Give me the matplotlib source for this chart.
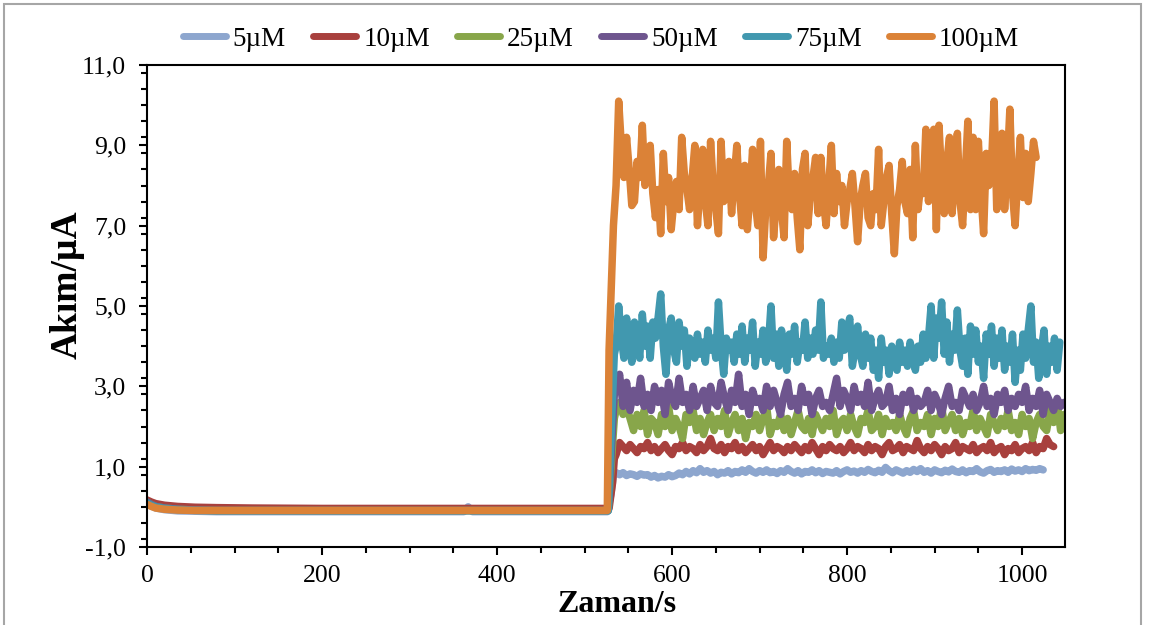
import numpy as np
import matplotlib
matplotlib.use("Agg")
import matplotlib.pyplot as plt
from matplotlib.patches import Rectangle
from matplotlib.ticker import MultipleLocator, FuncFormatter

# ---------------- data ----------------
labels = ["5µM", "10µM", "25µM", "50µM", "75µM", "100µM"]
colors = ["#8DA6CE", "#A8403D", "#88A64A", "#6E558E", "#4198AF", "#DB8237"]

# baseline (before injection): times and currents
pre_t_5 = [0, 5, 10, 20, 35, 55, 80, 120, 200, 300, 362, 367, 372, 450, 526, 530, 533]
pre_i_5 = [0.08, 0.02, -0.03, -0.07, -0.10, -0.11, -0.12, -0.12, -0.12, -0.12, -0.12, 0.0, -0.12, -0.12, -0.12, 0.3, 0.8]
pre_t_10 = [0, 5, 10, 20, 35, 55, 80, 120, 200, 300, 400, 500, 528, 532, 534]
pre_i_10 = [0.17, 0.12, 0.08, 0.04, 0.01, -0.01, -0.02, -0.03, -0.04, -0.04, -0.04, -0.04, -0.04, 0.6, 1.2]
pre_t_25 = [0, 5, 10, 20, 35, 55, 80, 120, 200, 300, 400, 500, 527, 531, 534]
pre_i_25 = [0.12, 0.06, 0.01, -0.03, -0.06, -0.08, -0.09, -0.09, -0.09, -0.09, -0.09, -0.09, -0.09, 1.2, 2.2]
pre_t_50 = [0, 5, 10, 20, 35, 55, 80, 120, 200, 300, 400, 500, 527, 531, 534]
pre_i_50 = [0.12, 0.06, 0.01, -0.03, -0.06, -0.08, -0.09, -0.09, -0.09, -0.09, -0.09, -0.09, -0.09, 1.6, 2.8]
pre_t_75 = [0, 5, 10, 20, 35, 55, 80, 120, 200, 300, 400, 500, 527, 531, 534]
pre_i_75 = [0.10, 0.04, 0.0, -0.04, -0.07, -0.09, -0.10, -0.10, -0.10, -0.10, -0.10, -0.10, -0.10, 2.2, 3.8]
pre_t_100 = [0, 5, 10, 20, 35, 55, 80, 120, 200, 300, 400, 500, 526, 528, 533]
pre_i_100 = [0.06, 0.01, -0.03, -0.06, -0.08, -0.09, -0.09, -0.09, -0.09, -0.09, -0.09, -0.09, -0.09, 3.9, 7.0]

# steady response after injection, sampled from t = 536 s
post_t0 = 536
post_dt = [4, 4, 4, 4, 3, 3]   # sampling step (s) for each series
post_i_5 = [0.85, 0.8, 0.85, 0.78, 0.82, 0.8, 0.76, 0.82, 0.79, 0.8, 0.74, 0.78, 0.72, 0.76, 0.74,
            0.8, 0.75, 0.78, 0.84, 0.8, 0.88, 0.82, 0.9, 0.85, 0.95, 0.86, 0.9, 0.84, 0.88, 0.8,
            0.86, 0.84, 0.9, 0.82, 0.88, 0.85, 0.92, 0.86, 0.95, 0.88, 0.84, 0.9, 0.86, 0.92, 0.85,
            0.88, 0.83, 0.9, 0.86, 0.95, 0.88, 0.84, 0.9, 0.82, 0.88, 0.86, 0.92, 0.85, 0.9, 0.83,
            0.88, 0.86, 0.84, 0.9, 0.82, 0.88, 0.92, 0.86, 0.89, 0.84, 0.9, 0.86, 0.93, 0.88, 0.85,
            0.91, 0.86, 0.98, 0.9, 0.85, 0.92, 0.88, 0.84, 0.9, 0.86, 0.93, 0.88, 0.95, 0.86, 0.9,
            0.84, 0.92, 0.88, 0.85, 0.91, 0.87, 0.94, 0.88, 0.86, 0.92, 0.85, 0.9, 0.88, 0.95, 0.87,
            0.84, 0.9, 0.93, 0.86, 0.9, 0.88, 0.92, 0.86, 0.94, 0.89, 0.92, 0.88, 0.95, 0.9, 0.93,
            0.91, 0.95, 0.92]
post_i_10 = [1.3, 1.6, 1.5, 1.4, 1.55, 1.45, 1.35, 1.5, 1.45, 1.6, 1.4, 1.5, 1.35, 1.45, 1.55,
             1.4, 1.3, 1.5, 1.45, 1.6, 1.4, 1.5, 1.45, 1.35, 1.55, 1.4, 1.5, 1.7, 1.45, 1.4,
             1.55, 1.35, 1.5, 1.45, 1.6, 1.4, 1.5, 1.35, 1.45, 1.55, 1.4, 1.5, 1.3, 1.45, 1.6,
             1.4, 1.5, 1.45, 1.35, 1.5, 1.4, 1.55, 1.45, 1.35, 1.5, 1.4, 1.6, 1.45, 1.3, 1.5,
             1.4, 1.55, 1.45, 1.4, 1.5, 1.35, 1.45, 1.6, 1.4, 1.5, 1.45, 1.35, 1.55, 1.4, 1.5,
             1.45, 1.3, 1.5, 1.6, 1.4, 1.45, 1.55, 1.35, 1.5, 1.45, 1.4, 1.65, 1.45, 1.35, 1.5,
             1.4, 1.55, 1.45, 1.3, 1.5, 1.4, 1.45, 1.6, 1.35, 1.5, 1.45, 1.4, 1.55, 1.35, 1.45,
             1.5, 1.4, 1.6, 1.35, 1.45, 1.5, 1.3, 1.45, 1.4, 1.55, 1.35, 1.45, 1.5, 1.4, 1.6,
             1.35, 1.5, 1.45, 1.7, 1.55, 1.5]
post_i_25 = [2.4, 2.6, 2.3, 2.5, 2.2, 1.9, 2.3, 2.0, 2.4, 1.8, 2.2, 2.1, 1.8, 2.3, 2.0,
             2.5, 1.9, 2.2, 2.0, 1.7, 2.3, 2.1, 2.4, 1.9, 2.2, 1.8, 2.1, 2.3, 1.9, 2.2,
             2.0, 2.4, 1.8, 2.1, 2.3, 1.9, 2.2, 1.7, 2.1, 2.0, 2.3, 1.9, 2.2, 2.5, 1.8,
             2.1, 2.0, 2.3, 1.9, 2.2, 1.8, 2.1, 2.4, 2.0, 1.9, 2.2, 1.8, 2.3, 2.1, 1.9,
             2.2, 2.0, 2.4, 1.8, 2.1, 2.2, 1.9, 2.3, 2.0, 1.8, 2.2, 2.1, 2.4, 1.9, 2.0,
             2.3, 1.8, 2.2, 2.0, 2.1, 1.9, 2.3, 2.0, 1.8, 2.2, 2.4, 1.9, 2.1, 2.0, 2.3,
             1.8, 2.2, 2.0, 2.5, 1.9, 2.1, 2.3, 1.9, 2.2, 1.8, 2.1, 2.0, 2.4, 1.9, 2.2,
             2.0, 1.8, 2.3, 2.1, 1.9, 2.2, 2.0, 2.4, 1.9, 2.1, 1.8, 2.3, 2.0, 2.2, 1.7,
             2.1, 2.3, 2.0, 1.9, 2.4, 2.1, 2.6, 1.9, 2.3]
post_i_50 = [2.9, 3.3, 2.5, 3.1, 2.4, 2.9, 2.6, 3.2, 2.5, 2.8, 2.4, 3.0, 2.6, 2.9, 2.3,
             3.1, 2.7, 2.5, 3.2, 2.6, 2.8, 2.4, 3.0, 2.5, 2.7, 2.9, 2.4, 3.0, 2.6, 2.5,
             3.1, 2.7, 2.4, 2.9, 2.6, 3.3, 2.5, 2.8, 2.3, 2.9, 2.6, 2.7, 2.4, 3.0, 2.5,
             2.9, 2.6, 2.3, 2.8, 3.1, 2.5, 2.7, 2.4, 3.0, 2.6, 2.8, 2.3, 2.7, 2.9, 2.5,
             2.6, 2.4, 2.8, 3.2, 2.5, 2.9, 2.7, 2.4, 3.0, 2.6, 2.8, 2.5, 3.1, 2.4, 2.7,
             2.9, 2.5, 2.6, 3.0, 2.4, 2.7, 2.3, 2.8, 2.6, 2.9, 2.4, 2.7, 2.5, 2.6, 2.9,
             2.4, 2.8, 2.6, 2.3, 2.7, 3.0, 2.5, 2.6, 2.4, 2.9, 2.7, 2.5, 2.8, 2.4, 2.6,
             3.0, 2.5, 2.7, 2.3, 2.8, 2.6, 2.9, 2.4, 2.7, 2.5, 2.8, 2.6, 3.0, 2.4, 2.7,
             2.5, 2.9, 2.3, 2.8, 2.6, 2.4, 2.7, 2.5, 2.6]
post_i_75 = [4.0, 5.0, 4.2, 3.7, 4.7, 4.1, 3.6, 4.6, 4.3, 3.7, 4.8, 4.0, 4.5, 3.7, 4.6,
             4.2, 4.7, 5.3, 4.0, 3.3, 4.4, 4.7, 3.9, 3.6, 4.6, 4.0, 4.4, 3.5, 4.2, 4.0,
             3.7, 4.3, 3.8, 4.1, 3.6, 4.4, 3.9, 4.2, 3.7, 5.1, 4.0, 3.3, 4.2, 3.9, 4.1,
             3.6, 4.3, 3.8, 4.5, 3.6, 4.2, 3.9, 4.6, 3.5, 4.1, 3.8, 4.4, 3.6, 4.0, 5.0,
             3.7, 4.3, 3.5, 4.4, 4.0, 3.4, 4.3, 3.8, 4.5, 3.6, 4.1, 3.9, 4.6, 3.7, 4.2,
             3.8, 4.4, 3.9, 5.1, 3.7, 4.0, 3.8, 4.2, 3.6, 4.1, 3.7, 4.6, 3.9, 4.4, 4.7,
             3.5, 3.9, 4.5, 3.8, 3.5, 4.3, 3.7, 4.2, 3.4, 3.9, 3.2, 4.2, 3.6, 3.9, 3.3,
             4.0, 3.7, 3.4, 4.1, 3.6, 3.9, 3.5, 4.1, 3.8, 3.4, 4.0, 3.6, 4.3, 3.7, 4.2,
             5.0, 3.7, 4.7, 4.2, 5.1, 3.8, 4.6, 3.6, 4.3, 3.9, 4.9, 3.9, 3.5, 4.2, 3.3,
             4.5, 3.8, 4.4, 3.6, 4.0, 3.2, 4.3, 3.8, 4.5, 3.5, 4.2, 3.7, 4.4, 3.4, 4.0,
             3.6, 4.3, 3.1, 3.9, 3.4, 4.3, 3.7, 4.4, 5.0, 3.6, 4.1, 3.2, 3.9, 4.4, 3.3,
             4.0, 3.6, 4.2, 3.4, 4.1]
post_i_100 = [8.0, 10.1, 9.0, 8.2, 9.2, 8.4, 7.5, 7.6, 8.6, 8.2, 9.5, 8.0, 8.5, 9.0, 7.8,
              7.2, 7.9, 6.8, 8.8, 7.6, 8.2, 6.9, 7.6, 8.1, 7.4, 9.2, 8.3, 7.9, 7.4, 8.2,
              9.0, 7.0, 8.0, 8.9, 7.6, 7.0, 9.1, 8.0, 7.4, 6.8, 9.1, 7.6, 8.0, 8.6, 7.3,
              8.2, 9.0, 7.8, 7.0, 8.5, 6.9, 7.8, 8.9, 7.6, 7.0, 9.1, 6.2, 7.4, 8.0, 8.8,
              6.7, 7.6, 8.4, 7.4, 6.7, 9.1, 7.7, 7.4, 8.3, 7.2, 6.4, 8.4, 8.8, 7.0, 7.7,
              8.2, 8.7, 7.3, 8.7, 7.6, 7.0, 8.0, 9.0, 7.3, 8.3, 7.6, 8.0, 7.0, 7.6, 7.9,
              8.3, 7.5, 6.6, 7.6, 8.0, 8.3, 7.2, 7.0, 7.8, 7.4, 8.9, 7.0, 7.6, 8.2, 8.5,
              7.3, 6.3, 7.5, 7.9, 8.6, 7.6, 7.3, 8.4, 6.7, 9.0, 7.4, 8.0, 7.8, 9.4, 7.6,
              8.4, 9.4, 6.9, 9.5, 8.2, 7.3, 8.6, 9.2, 7.3, 8.4, 9.3, 7.6, 7.0, 8.3, 9.6,
              7.4, 9.2, 7.4, 9.1, 7.8, 6.8, 8.8, 8.0, 8.5, 10.1, 7.4, 8.3, 9.3, 7.4, 8.5,
              9.9, 7.8, 7.0, 8.2, 9.2, 7.7, 8.8, 7.6, 8.3, 9.1, 8.7]

pre_t = [pre_t_5, pre_t_10, pre_t_25, pre_t_50, pre_t_75, pre_t_100]
pre_i = [pre_i_5, pre_i_10, pre_i_25, pre_i_50, pre_i_75, pre_i_100]
post_i = [post_i_5, post_i_10, post_i_25, post_i_50, post_i_75, post_i_100]

x_ticks = [0, 200, 400, 600, 800, 1000]
y_ticks = [-1, 1, 3, 5, 7, 9, 11]

# ---------------- figure ----------------
plt.rcParams["font.family"] = ["Liberation Serif", "DejaVu Serif"]

W, H = 1150, 625
fig = plt.figure(figsize=(W / 100, H / 100), dpi=100)
fig.patch.set_facecolor("white")

# chart-area border
fig.patches.append(Rectangle((4 / W, -0.05), (1141 - 4) / W, 1 - 4 / H + 0.05,
                             transform=fig.transFigure, fill=False,
                             edgecolor="#A6A6A6", linewidth=1.5))

ax = fig.add_axes([147 / W, 1 - 547 / H, (1065 - 147) / W, (547 - 65) / H])

for t_pre, i_pre, i_post, dt, lab, col in zip(pre_t, pre_i, post_i, post_dt, labels, colors):
    t_post = post_t0 + dt * np.arange(len(i_post))
    t = np.concatenate([np.asarray(t_pre, float), t_post])
    i = np.concatenate([np.asarray(i_pre, float), np.asarray(i_post, float)])
    ax.plot(t, i, color=col, lw=5.4, label=lab,
            solid_joinstyle="round", solid_capstyle="round")

ax.set_xlim(0, 1049)
ax.set_ylim(-1, 11)
ax.set_xticks(x_ticks)
ax.set_yticks(y_ticks)
ax.xaxis.set_minor_locator(MultipleLocator(50))
ax.yaxis.set_minor_locator(MultipleLocator(0.4))
ax.yaxis.set_major_formatter(FuncFormatter(lambda v, p: f"{v:.1f}".replace(".", ",")))

for s in ax.spines.values():
    s.set_linewidth(1.5)
    s.set_color("black")

ax.tick_params(axis="both", which="major", direction="out", length=6, width=1.5,
               labelsize=18.5, colors="black")
ax.tick_params(axis="both", which="minor", direction="out", length=4, width=1.5)
ax.tick_params(axis="y", which="major", pad=9)
ax.tick_params(axis="x", which="major", pad=7)

fig.text(67 / W, 1 - 285 / H, "Akım/µA", rotation=90, ha="center", va="center",
         fontsize=27, fontweight="bold")
fig.text(617 / W, 1 - 605 / H, "Zaman/s", ha="center", va="center",
         fontsize=23, fontweight="bold")

leg = fig.legend(loc="center", bbox_to_anchor=(601 / W, 1 - 39 / H), ncol=6,
                 frameon=False, fontsize=19.5, handlelength=1.6, handletextpad=0.25,
                 columnspacing=1.0, borderaxespad=0)
for h in leg.get_lines():
    h.set_linewidth(5)
    h.set_solid_capstyle("round")

fig.savefig("out.png", dpi=100, facecolor="white")
